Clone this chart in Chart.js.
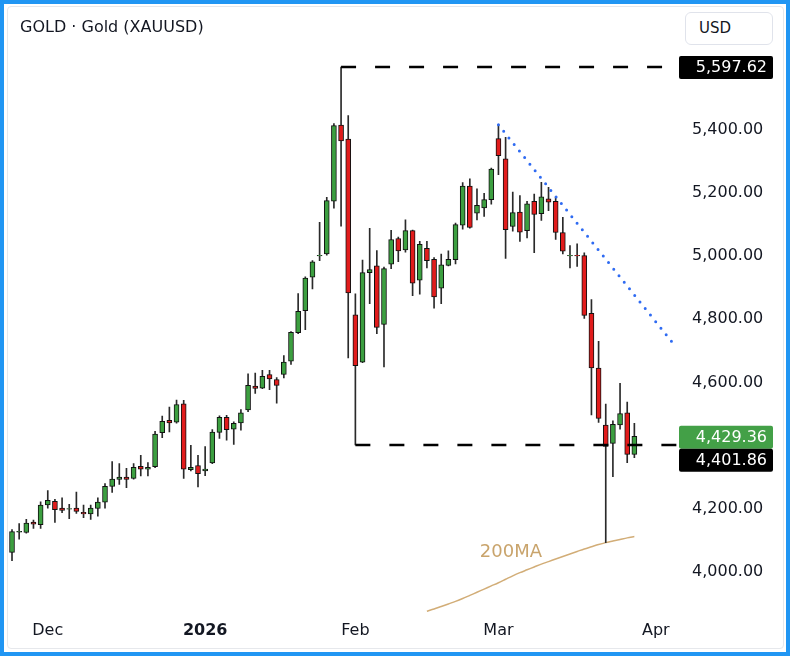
<!DOCTYPE html>
<html>
<head>
<meta charset="utf-8">
<script src="https://cdn.jsdelivr.net/npm/chart.js"></script>
<style>
  html, body { margin: 0; padding: 0; }
  body { width: 790px; height: 656px; position: relative; background: #2196f3; overflow: hidden; font-family: "DejaVu Sans", sans-serif; }
  #frame { position: absolute; left: 4px; top: 4px; right: 4px; bottom: 4px; background: #fff; }
  #inner { position: absolute; left: 7px; top: 6px; width: 777px; height: 643px; border: 1px solid #e6e8ec; border-radius: 4px; box-sizing: border-box; }
  canvas { position: absolute; left: 0; top: 0; }
  #title { position: absolute; left: 20px; top: 17px; font-size: 16px; color: #131722; z-index: 2; }
  #usd { position: absolute; left: 685px; top: 12px; width: 88px; height: 33px; border: 1px solid #e0e3eb; border-radius: 6px; box-sizing: border-box; font-size: 15px; color: #131722; padding-left: 13px; line-height: 31px; z-index: 2; background: #fff; }
</style>
</head>
<body>
<div id="frame"></div>
<div id="inner"></div>
<canvas id="chart" width="790" height="656"></canvas>
<div id="title">GOLD · Gold (XAUUSD)</div>
<div id="usd">USD</div>
<script>
// daily candles, index 0 = 24 Nov 2025
var opens = [4062,4126,4125,4158,4150,4212,4224,4202,4199,4202,
  4189,4184,4201,4221,4271,4293,4300,4296,4334,4325,
  4333,4441,4480,4474,4532,4324,4337,4320,4345,4442,
  4489,4452,4472,4513,4588,4582,4625,4609,4625,4667,
  4757,4827,4933,5000,5006,5173,5414,5370,4814,4664,
  4947,4969,4783,4974,5055,5019,5080,4923,5024,4989,
  4898,4970,4988,5097,5221,5135,5152,5178,5371,5307,
  5093,5139,5080,5173,5134,5181,5173,5074,5000,5002,
  5001,4818,4645,4465,4407,4465,4504,4372];
var highs = [4134,4153,4167,4164,4222,4258,4230,4235,4214,4253,
  4212,4212,4235,4280,4349,4343,4328,4343,4369,4346,
  4445,4493,4522,4544,4543,4401,4369,4397,4451,4494,
  4496,4475,4514,4627,4629,4638,4638,4615,4685,4761,
  4881,4934,4985,5106,5185,5419,5597.62,5444,4880,4987,
  5087,5017,4965,5081,5060,5114,5082,5046,5046,4995,
  5006,5016,5104,5232,5244,5212,5198,5278,5415,5375,
  5202,5191,5173,5196,5233,5217,5186,5122,5033,5038,
  5010,4862,4730,4531,4478,4597,4538,4470];
var lows = [4036,4104,4123,4138,4138,4202,4157,4188,4169,4185,
  4172,4166,4177,4202,4252,4277,4267,4294,4304,4304,
  4330,4425,4443,4471,4296,4320,4269,4305,4343,4423,
  4417,4404,4449,4507,4565,4580,4577,4534,4614,4657,
  4754,4767,4896,4985,5002,5151,5094,4677,4401.86,4662,
  4849,4754,4649,4960,4982,5012,4874,4879,4962,4835,
  4849,4968,4975,5085,5088,5114,5125,5164,5257,4992,
  5078,5046,5057,5010,5112,5143,5052,5006,4962,4967,
  4802,4497,4473,4093,4302,4452,4346,4362];
var closes = [4128,4129,4155,4151,4212,4227,4197,4195,4201,4192,
  4184,4202,4221,4271,4294,4300,4293,4331,4325,4331,
  4436,4477,4472,4530,4325,4331,4311,4326,4443,4489,
  4450,4470,4504,4591,4581,4619,4611,4590,4664,4758,
  4825,4930,4981,5002,5175,5412,5364,4883,4653,4947,
  4957,4774,4960,5052,5016,5080,4914,5037,4985,4870,
  4972,4989,5099,5221,5090,5160,5178,5275,5317,5083,
  5137,5075,5165,5131,5187,5170,5074,5015,5002,5000,
  4812,4646,4486,4397,4467,4501,4372,4429.36];

// 200 day moving average, from candle 58 on
var maStart = 58;
var ma200 = [3876,3883,3891,3899,3907,3916,3926,3936,3946,3956,
  3966,3977,3988,3998,4007,4016,4025,4033,4041,4049,
  4057,4065,4073,4080,4087,4093,4098,4103,4108,4112];

var monthTicks = [5, 27, 48, 68, 90];
var monthLabels = ['Dec', '2026', 'Feb', 'Mar', 'Apr'];
var priceTicks = [4000, 4200, 4600, 4800, 5000, 5200, 5400];

var topPrice = 5597.62;
var lowPrice = 4401.86;
var lastPrice = 4429.36;
var trendStart = [68, 5415];
var trendEnd = [92.7, 4715];

var green = '#3c9f40';
var red = '#e11c1c';

var wickData = [], bodyData = [], bodyColors = [];
for (var i = 0; i < opens.length; i++) {
  wickData.push({x: i, y: [lows[i], highs[i]]});
  bodyData.push({x: i, y: [opens[i], closes[i]]});
  bodyColors.push(closes[i] >= opens[i] ? green : red);
}
var maData = ma200.map(function (v, k) { return {x: maStart + k, y: v}; });

function fmt(v) {
  return v.toLocaleString('en-US', {minimumFractionDigits: 2, maximumFractionDigits: 2});
}

var priceTags = {
  id: 'priceTags',
  afterDatasetsDraw: function (chart) {
    var ctx = chart.ctx, y = chart.scales.y, x = chart.scales.x;
    ctx.save();
    ctx.font = '18px "DejaVu Sans"';
    ctx.fillStyle = '#c9a46c';
    ctx.textAlign = 'left';
    ctx.textBaseline = 'middle';
    ctx.fillText('200MA', x.getPixelForValue(65.4), y.getPixelForValue(4063));

    function tag(top, text, bg) {
      ctx.fillStyle = bg;
      ctx.beginPath();
      ctx.roundRect(679, top, 94, 23, 2);
      ctx.fill();
      ctx.fillStyle = '#fff';
      ctx.font = '16px "DejaVu Sans"';
      ctx.textAlign = 'right';
      ctx.textBaseline = 'middle';
      ctx.fillText(text, 767, top + 12);
    }
    tag(y.getPixelForValue(topPrice) - 11, fmt(topPrice), '#000');
    var t = y.getPixelForValue(lastPrice) - 10.5;
    tag(t, fmt(lastPrice), '#43a047');
    tag(t + 23, fmt(lowPrice), '#000');
    ctx.restore();
  }
};

new Chart(document.getElementById('chart'), {
  type: 'bar',
  data: {
    datasets: [
      { type: 'line', data: [{x: 46, y: topPrice}, {x: 94, y: topPrice}], borderColor: '#000', borderWidth: 2.6, borderDash: [15, 19], pointRadius: 0, order: 0 },
      { type: 'line', data: [{x: 48, y: lowPrice}, {x: 94, y: lowPrice}], borderColor: '#000', borderWidth: 2.6, borderDash: [15, 19], pointRadius: 0, order: 0 },
      { type: 'line', data: [{x: trendStart[0], y: trendStart[1]}, {x: trendEnd[0], y: trendEnd[1]}], borderColor: '#2f6bf2', borderWidth: 3, borderDash: [0, 8.4], borderCapStyle: 'round', pointRadius: 0, order: 0 },
      { data: bodyData, backgroundColor: bodyColors, borderColor: '#111', borderWidth: 1, borderSkipped: false, barThickness: 5, grouped: false, order: 1 },
      { data: wickData, backgroundColor: '#2a2a2a', barThickness: 1, grouped: false, order: 2 },
      { type: 'line', data: maData, borderColor: '#d2ad77', borderWidth: 1.5, pointRadius: 0, tension: 0.3, order: 3 }
    ]
  },
  options: {
    responsive: false,
    animation: false,
    layout: { padding: { left: 8, top: 10, right: 0, bottom: 0 } },
    plugins: { legend: { display: false }, tooltip: { enabled: false } },
    scales: {
      x: {
        type: 'linear', min: -0.56, max: 93.1, offset: false,
        grid: { display: false, drawTicks: false }, border: { display: false },
        afterBuildTicks: function (s) { s.ticks = monthTicks.map(function (v) { return {value: v}; }); },
        afterFit: function (s) { s.height = 44; },
        ticks: {
          autoSkip: false, maxRotation: 0, padding: 9, color: '#131722',
          font: function (c) { return {family: 'DejaVu Sans', size: 16, weight: c.tick && c.tick.value === 27 ? 'bold' : 'normal'}; },
          callback: function (v) { return monthLabels[monthTicks.indexOf(v)]; }
        }
      },
      y: {
        position: 'right', min: 3873.5, max: 5735,
        grid: { display: false, drawTicks: false }, border: { display: false },
        afterBuildTicks: function (s) { s.ticks = priceTicks.map(function (v) { return {value: v}; }); },
        afterFit: function (s) { s.width = 112; },
        ticks: { padding: 14, color: '#131722', font: { family: 'DejaVu Sans', size: 16 }, callback: function (v) { return fmt(v); } }
      }
    }
  },
  plugins: [priceTags]
});
</script>
</body>
</html>
